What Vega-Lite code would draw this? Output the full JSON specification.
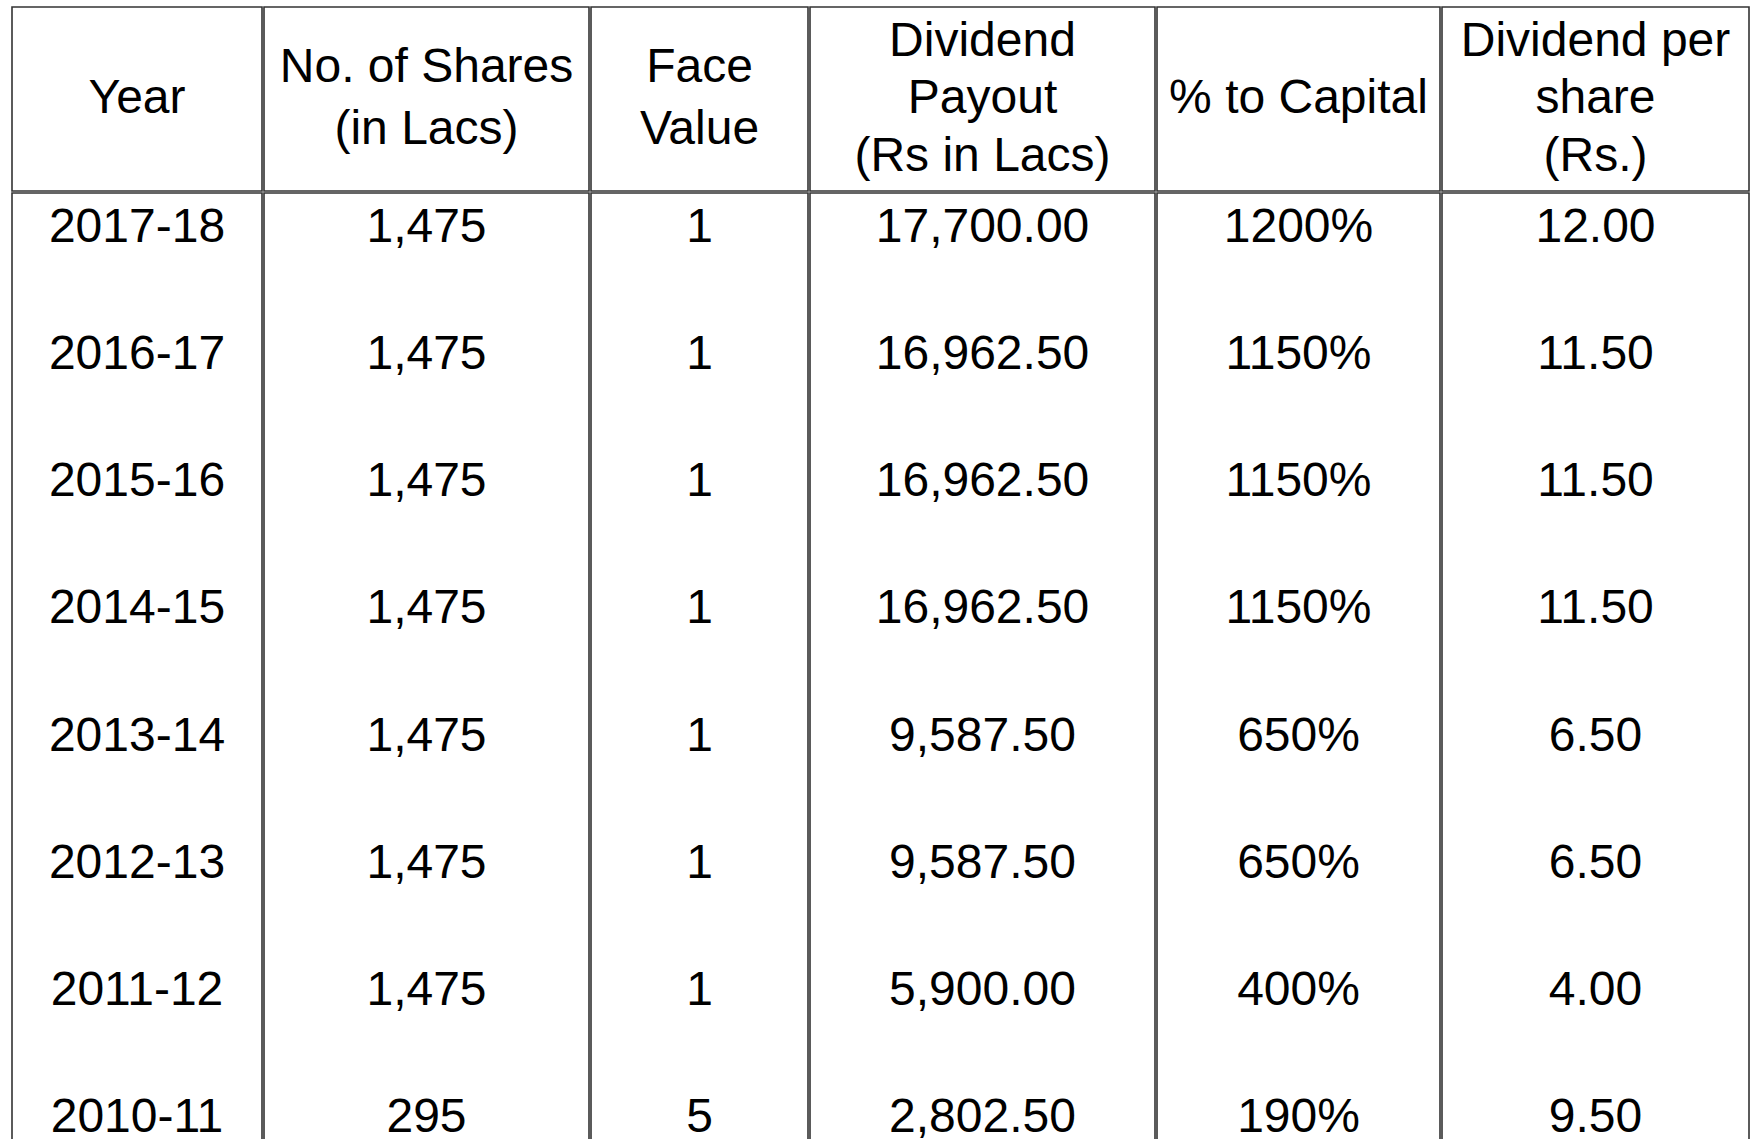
{
  "$schema": "https://vega.github.io/schema/vega-lite/v6.json",
  "padding": {"left": 11, "top": 6, "right": 0, "bottom": 0},
  "background": "white",
  "spacing": 0,
  "config": {
    "view": {"stroke": "#333333", "strokeWidth": 1.6},
    "concat": {"spacing": 0},
    "text": {"font": "Liberation Sans", "fontSize": 48, "color": "#000000", "baseline": "middle", "align": "center"}
  },
  "datasets": {
    "header": [
      {"col": "year", "line": 0, "label": "Year"},
      {"col": "shares", "line": 0, "label": "No. of Shares"},
      {"col": "shares", "line": 1, "label": "(in Lacs)"},
      {"col": "face", "line": 0, "label": "Face"},
      {"col": "face", "line": 1, "label": "Value"},
      {"col": "payout", "line": 0, "label": "Dividend"},
      {"col": "payout", "line": 1, "label": "Payout"},
      {"col": "payout", "line": 2, "label": "(Rs in Lacs)"},
      {"col": "pct", "line": 0, "label": "% to Capital"},
      {"col": "dps", "line": 0, "label": "Dividend per"},
      {"col": "dps", "line": 1, "label": "share"},
      {"col": "dps", "line": 2, "label": "(Rs.)"}
    ],
    "body": [
      {"Year": "2017-18", "Shares": 1475, "Face": 1, "Payout": 17700.00, "Pct": 12.0, "DPS": 12.00},
      {"Year": "2016-17", "Shares": 1475, "Face": 1, "Payout": 16962.50, "Pct": 11.5, "DPS": 11.50},
      {"Year": "2015-16", "Shares": 1475, "Face": 1, "Payout": 16962.50, "Pct": 11.5, "DPS": 11.50},
      {"Year": "2014-15", "Shares": 1475, "Face": 1, "Payout": 16962.50, "Pct": 11.5, "DPS": 11.50},
      {"Year": "2013-14", "Shares": 1475, "Face": 1, "Payout": 9587.50, "Pct": 6.5, "DPS": 6.50},
      {"Year": "2012-13", "Shares": 1475, "Face": 1, "Payout": 9587.50, "Pct": 6.5, "DPS": 6.50},
      {"Year": "2011-12", "Shares": 1475, "Face": 1, "Payout": 5900.00, "Pct": 4.0, "DPS": 4.00},
      {"Year": "2010-11", "Shares": 295, "Face": 5, "Payout": 2802.50, "Pct": 1.9, "DPS": 9.50}
    ]
  },
  "vconcat": [
    {
      "hconcat": [
        {"width": 250, "height": 184, "data": {"name": "header"}, "transform": [{"filter": "datum.col == 'year'"}], "mark": {"type": "text"},
         "encoding": {"y": {"field": "line", "type": "ordinal", "scale": {"type": "point", "padding": 1.3}, "axis": null}, "text": {"field": "label"}}},
        {"width": 325, "height": 184, "data": {"name": "header"}, "transform": [{"filter": "datum.col == 'shares'"}], "mark": {"type": "text"},
         "encoding": {"y": {"field": "line", "type": "ordinal", "scale": {"type": "point", "padding": 1.3}, "axis": null}, "text": {"field": "label"}}},
        {"width": 217, "height": 184, "data": {"name": "header"}, "transform": [{"filter": "datum.col == 'face'"}], "mark": {"type": "text"},
         "encoding": {"y": {"field": "line", "type": "ordinal", "scale": {"type": "point", "padding": 1.3}, "axis": null}, "text": {"field": "label"}}},
        {"width": 345, "height": 184, "data": {"name": "header"}, "transform": [{"filter": "datum.col == 'payout'"}], "mark": {"type": "text"},
         "encoding": {"y": {"field": "line", "type": "ordinal", "scale": {"type": "point", "padding": 0.6}, "axis": null}, "text": {"field": "label"}}},
        {"width": 283, "height": 184, "data": {"name": "header"}, "transform": [{"filter": "datum.col == 'pct'"}], "mark": {"type": "text"},
         "encoding": {"y": {"field": "line", "type": "ordinal", "scale": {"type": "point", "padding": 1.3}, "axis": null}, "text": {"field": "label"}}},
        {"width": 307, "height": 184, "data": {"name": "header"}, "transform": [{"filter": "datum.col == 'dps'"}], "mark": {"type": "text"},
         "encoding": {"y": {"field": "line", "type": "ordinal", "scale": {"type": "point", "padding": 0.6}, "axis": null}, "text": {"field": "label"}}}
      ]
    },
    {
      "hconcat": [
        {"width": 250, "height": 947, "data": {"name": "body"}, "mark": {"type": "text"},
         "encoding": {"y": {"field": "Year", "type": "ordinal", "sort": null, "scale": {"type": "point", "range": [35, 925], "padding": 0}, "axis": null}, "text": {"field": "Year"}}},
        {"width": 325, "height": 947, "data": {"name": "body"}, "mark": {"type": "text"},
         "encoding": {"y": {"field": "Year", "type": "ordinal", "sort": null, "scale": {"type": "point", "range": [35, 925], "padding": 0}, "axis": null}, "text": {"field": "Shares", "type": "quantitative", "format": ","}}},
        {"width": 217, "height": 947, "data": {"name": "body"}, "mark": {"type": "text"},
         "encoding": {"y": {"field": "Year", "type": "ordinal", "sort": null, "scale": {"type": "point", "range": [35, 925], "padding": 0}, "axis": null}, "text": {"field": "Face", "type": "quantitative", "format": "d"}}},
        {"width": 345, "height": 947, "data": {"name": "body"}, "mark": {"type": "text"},
         "encoding": {"y": {"field": "Year", "type": "ordinal", "sort": null, "scale": {"type": "point", "range": [35, 925], "padding": 0}, "axis": null}, "text": {"field": "Payout", "type": "quantitative", "format": ",.2f"}}},
        {"width": 283, "height": 947, "data": {"name": "body"}, "mark": {"type": "text"},
         "encoding": {"y": {"field": "Year", "type": "ordinal", "sort": null, "scale": {"type": "point", "range": [35, 925], "padding": 0}, "axis": null}, "text": {"field": "Pct", "type": "quantitative", "format": ".0%"}}},
        {"width": 307, "height": 947, "data": {"name": "body"}, "mark": {"type": "text"},
         "encoding": {"y": {"field": "Year", "type": "ordinal", "sort": null, "scale": {"type": "point", "range": [35, 925], "padding": 0}, "axis": null}, "text": {"field": "DPS", "type": "quantitative", "format": ".2f"}}}
      ]
    }
  ]
}
